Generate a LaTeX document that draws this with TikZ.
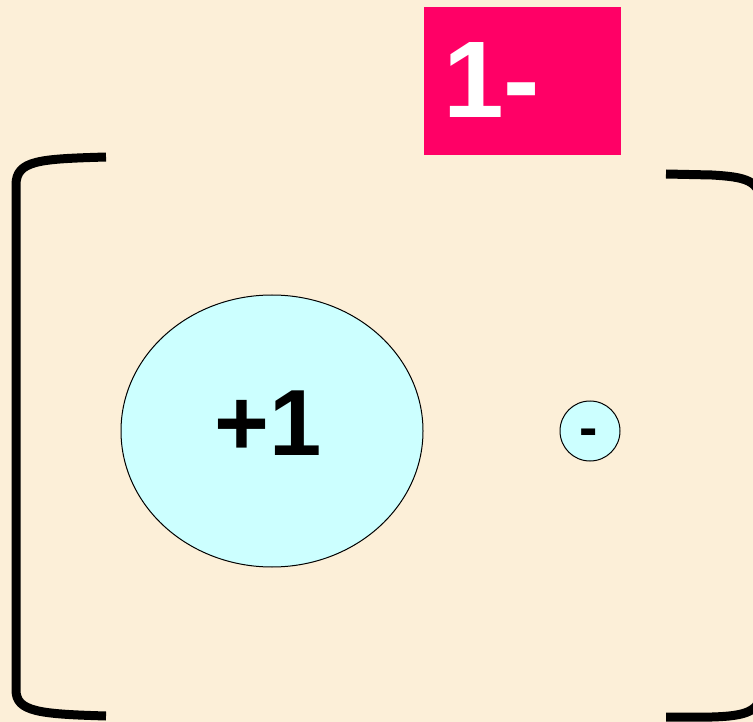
\documentclass[tikz,border=0pt]{standalone}
\usepackage{fontspec}
\setmainfont{Liberation Sans}
\usetikzlibrary{shapes.geometric}
\definecolor{bgcream}{HTML}{FCEFD8}
\definecolor{chargebox}{HTML}{FF0066}
\definecolor{ionfill}{HTML}{CCFFFF}
\tikzset{
  bracketline/.style={line width=9pt, line cap=butt, line join=round},
  ionball/.style={draw=black, line width=1pt, fill=ionfill, inner sep=0pt},
}
\begin{document}
\begin{tikzpicture}[x=1pt,y=-1pt]
\fill[bgcream] (0,0) rectangle (753,722);
\useasboundingbox (0,0) rectangle (753,722);
% charge label
\node[fill=chargebox, minimum width=197pt, minimum height=148pt, inner sep=0pt, anchor=north west] (box) at (424,7) {};
\node[text=white, font=\fontsize{109}{109}\selectfont\bfseries, anchor=base west, inner sep=0pt] (charge) at (443,118) {1-};
% left bracket
\coordinate (lt) at (106,157);
\coordinate (lb) at (106,716);
\draw[bracketline] (lt) .. controls (40,159) and (16,160) .. (16,185) -- (16,690) .. controls (16,712) and (40,714) .. (lb);
% right bracket
\coordinate (rt) at (666,174);
\coordinate (rb) at (666,717);
\draw[bracketline] (rt) -- (712,175) .. controls (745,177) and (761,180) .. (761,205) -- (761,690) .. controls (761,712) and (745,716) .. (712,717) -- (rb);
% ions
\node[ionball, ellipse, minimum width=302pt, minimum height=272pt] (big) at (272,431) {};
\node[font=\fontsize{94}{94}\selectfont\bfseries, anchor=base west, inner sep=0pt] (bigtxt) at (214,455) {+1};
\node[ionball, circle, minimum size=60pt] (small) at (590,431) {};
\node[font=\fontsize{55}{55}\selectfont\bfseries, anchor=base, inner sep=0pt] (smalltxt) at (589,446) {-};
\end{tikzpicture}
\end{document}
